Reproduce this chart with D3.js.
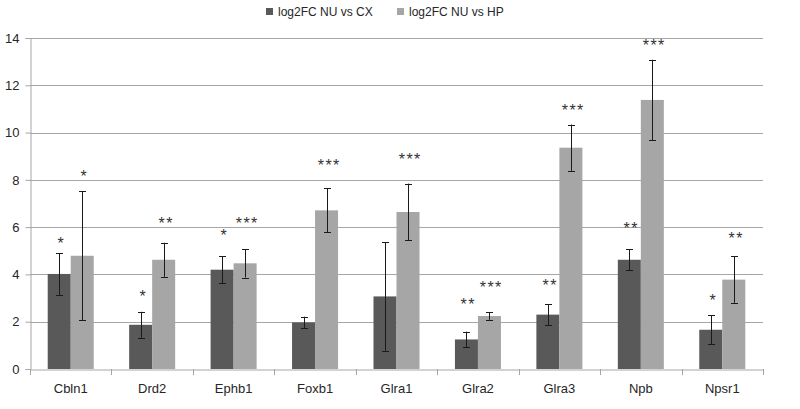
<!DOCTYPE html>
<html>
<head>
<meta charset="utf-8">
<script src="https://cdn.jsdelivr.net/npm/d3@7"></script>
<style>
  html, body { margin: 0; padding: 0; background: #ffffff; }
  svg { display: block; font-family: "Liberation Sans", Arial, sans-serif; }
</style>
</head>
<body>
<svg id="chart" width="800" height="409"></svg>
<script>
// ---- data ----
const categories = ["Cbln1", "Drd2", "Ephb1", "Foxb1", "Glra1", "Glra2", "Glra3", "Npb", "Npsr1"];
const seriesNames = ["log2FC NU vs CX", "log2FC NU vs HP"];
const valuesCX = [4.02, 1.87, 4.20, 1.97, 3.07, 1.25, 2.30, 4.62, 1.66];
const errorsCX = [0.88, 0.55, 0.57, 0.24, 2.30, 0.33, 0.45, 0.44, 0.62];
const valuesHP = [4.79, 4.62, 4.47, 6.71, 6.64, 2.24, 9.36, 11.38, 3.78];
const errorsHP = [2.72, 0.72, 0.60, 0.93, 1.20, 0.16, 0.98, 1.70, 0.98];
const sigCX = ["*", "*", "*", "", "", "**", "**", "**", "*"];
const sigHP = ["*", "**", "***", "***", "***", "***", "***", "***", "**"];
const sigLevelCX = [5.46, 3.23, 5.81, 0, 0, 2.89, 3.69, 6.09, 3.06];
const sigLevelHP = [8.29, 6.30, 6.30, 8.74, 9.02, 3.58, 11.09, 13.82, 5.68];
const yTicks = [0, 2, 4, 6, 8, 10, 12, 14];

// ---- layout ----
const svg = d3.select("#chart");
const margin = { left: 30, right: 37, top: 38, bottom: 40 };
const W = 800, H = 409;
const x0 = margin.left, x1 = W - margin.right;
const yTop = margin.top, yBot = H - margin.bottom;
const colors = ["#595959", "#a6a6a6"];
const gridColor = "#a6a6a6";

const x = d3.scaleBand().domain(categories).range([x0, x1]).paddingInner(0).paddingOuter(0);
const xs = d3.scaleBand().domain([0, 1]).range([0, x.bandwidth()]).paddingInner(0).paddingOuter(0.77);
const y = d3.scaleLinear().domain([0, 14]).range([yBot, yTop]);

// gridlines
svg.append("g").selectAll("line").data(yTicks.filter(d => d > 0)).join("line")
  .attr("x1", x0).attr("x2", x1)
  .attr("y1", d => Math.round(y(d)) + 0.5).attr("y2", d => Math.round(y(d)) + 0.5)
  .attr("stroke", gridColor).attr("stroke-width", 1);

// y axis
const yAxis = svg.append("g").attr("transform", `translate(${x0 + 0.5},0)`)
  .call(d3.axisLeft(y).tickValues(yTicks).tickSize(5).tickPadding(6));
yAxis.select(".domain").attr("stroke", gridColor);
yAxis.selectAll(".tick line").attr("stroke", gridColor);
yAxis.selectAll(".tick text").attr("font-size", 13).attr("fill", "#262626")
  .attr("font-family", "Liberation Sans, Arial, sans-serif");

// bars
const series = [
  { vals: valuesCX, errs: errorsCX, sig: sigCX, lvl: sigLevelCX },
  { vals: valuesHP, errs: errorsHP, sig: sigHP, lvl: sigLevelHP }
];
series.forEach((s, si) => {
  const g = svg.append("g");
  g.selectAll("rect").data(categories).join("rect")
    .attr("x", (c) => x(c) + xs(si))
    .attr("width", xs.bandwidth())
    .attr("y", (c, i) => y(s.vals[i]))
    .attr("height", (c, i) => y(0) - y(s.vals[i]))
    .attr("fill", colors[si]);
});

// x axis
const xAxis = svg.append("g").attr("transform", `translate(0,${Math.round(y(0)) + 0.5})`)
  .call(d3.axisBottom(x).tickSize(0).tickPadding(14));
xAxis.select(".domain").attr("stroke", gridColor);
xAxis.selectAll(".tick text").attr("font-size", 13).attr("fill", "#262626")
  .attr("font-family", "Liberation Sans, Arial, sans-serif");
// category separator ticks
svg.append("g").selectAll("line").data(d3.range(categories.length + 1)).join("line")
  .attr("x1", i => Math.round(x0 + i * x.step()) + 0.5)
  .attr("x2", i => Math.round(x0 + i * x.step()) + 0.5)
  .attr("y1", Math.round(y(0))).attr("y2", Math.round(y(0)) + 6)
  .attr("stroke", gridColor);

// error bars and significance
series.forEach((s, si) => {
  const g = svg.append("g");
  categories.forEach((c, i) => {
    const cx = Math.round(x(c) + xs(si) + xs.bandwidth() / 2) + 0.5;
    const hi = y(s.vals[i] + s.errs[i]);
    const lo = y(s.vals[i] - s.errs[i]);
    g.append("line").attr("x1", cx).attr("x2", cx).attr("y1", hi).attr("y2", lo)
      .attr("stroke", "#1a1a1a").attr("stroke-width", 1);
    [hi, lo].forEach(yy => {
      g.append("line").attr("x1", cx - 3.5).attr("x2", cx + 3.5)
        .attr("y1", Math.round(yy) + 0.5).attr("y2", Math.round(yy) + 0.5)
        .attr("stroke", "#1a1a1a").attr("stroke-width", 1);
    });
    if (s.sig[i]) {
      const n = s.sig[i].length;
      g.append("text").attr("x", cx + 1 + (n > 1 ? 0.75 : 0)).attr("y", y(s.lvl[i]) + 9)
        .attr("text-anchor", "middle").attr("font-size", 16)
        .attr("letter-spacing", n > 1 ? 1.5 : 0)
        .attr("fill", "#333333").text(s.sig[i]);
    }
  });
});

// legend
const legend = svg.append("g");
const legendX = [266, 397];
seriesNames.forEach((n, i) => {
  legend.append("rect").attr("x", legendX[i]).attr("y", 8).attr("width", 7).attr("height", 7)
    .attr("fill", colors[i]);
  legend.append("text").attr("x", legendX[i] + 12).attr("y", 16)
    .attr("font-size", 12).attr("fill", "#262626").text(n);
});
</script>
</body>
</html>
